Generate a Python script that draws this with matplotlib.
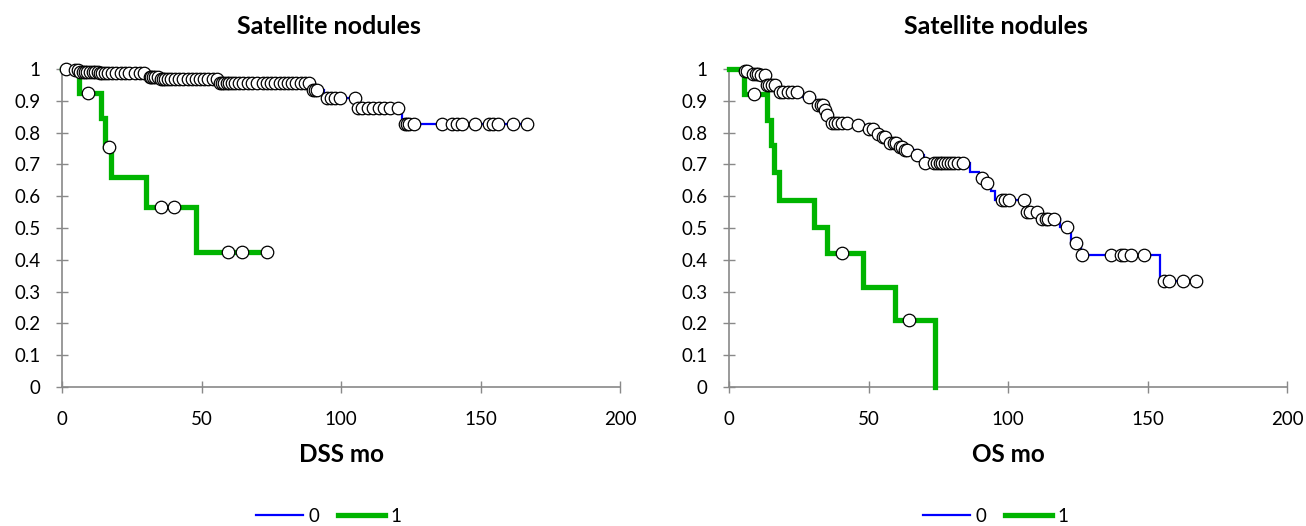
import numpy as np
import matplotlib.pyplot as plt

plt.rcParams['font.family'] = ['Lato', 'DejaVu Sans']

# DSS, group 0 (no satellite nodules): event times and survival after each drop
dss0_times = [3, 6, 13, 31, 35, 56, 89, 94, 105.5, 122]
dss0_surv = [0.997, 0.99, 0.986, 0.976, 0.97, 0.955, 0.934, 0.908, 0.876, 0.826]
dss0_cens = [1.4, 4.5, 5.8, 6.5, 7.5, 8.3, 9, 10, 11, 12, 12.8,
             13.5, 14.5, 15.5, 16.5, 18, 19.5, 21, 22.5, 24, 26, 28, 29.5,
             31.5, 32, 32.7, 33.5, 34.5,
             35.5, 36.2, 37, 38, 39, 40.5, 42, 43.5, 45, 46.5, 48, 49.5, 51, 52.5, 54, 55.5,
             56.5, 57.2, 58, 59, 60, 61, 62, 63.5, 65, 66.5, 68, 70, 72, 73.5, 75, 76.5,
             78, 79.5, 81, 82.5, 84, 85.5, 87, 88.5,
             90, 90.8, 91.5, 95, 96.5, 98, 99.8, 105,
             106, 107.5, 109.5, 111.5, 113.5, 115.5, 117.5, 120.5,
             123, 123.8, 124.5, 126, 136.2, 139.8, 141.5, 143.3, 148.1, 152.9, 154.5,
             156.4, 161.8, 166.5]

# DSS, group 1 (satellite nodules)
dss1_times = [6, 14, 15.4, 17.7, 30.2, 48.1]
dss1_surv = [0.925, 0.846, 0.756, 0.66, 0.567, 0.425]
dss1_cens = [9.4, 16.7, 35.4, 40, 59.6, 64.4, 73.3]

# OS, group 0
os0_times = [5, 8, 11, 13.2, 17.5, 26.5, 31, 34.3, 34.8, 36, 44, 49, 52.5, 54.5,
             57.5, 60.5, 62.5, 66.5, 70, 86.5, 89.5, 92, 94, 95.5, 106.5, 111.5,
             118.8, 122.6, 126, 154.5]
os0_surv = [0.993, 0.985, 0.98, 0.95, 0.929, 0.913, 0.887, 0.87, 0.855, 0.829,
            0.824, 0.81, 0.796, 0.786, 0.767, 0.755, 0.745, 0.73, 0.703, 0.677,
            0.656, 0.64, 0.615, 0.588, 0.551, 0.527, 0.502, 0.452, 0.415, 0.334]
os0_cens = [5.7, 6.5, 8.6, 9.5, 10.5, 11.5, 12.9, 13.5, 14.5, 15.5, 16.5,
            18.3, 19.5, 21, 22.5, 24.3, 28.5, 32, 33, 33.8, 34.5, 35,
            36.9, 38, 39, 40.5, 42.3, 46.4, 50, 51.5, 53.5, 55.3, 56,
            57.8, 59, 60, 61.4, 62, 63, 63.8, 67.3,
            70.4, 73.3, 74.5, 75.5, 76.5, 77.5, 78.5, 79.5, 80.5, 82, 84,
            90.7, 92.3, 97.8, 99, 100.2, 105.7, 106.9, 108, 110.5,
            112.2, 113.5, 114.5, 116.4, 121.2, 124.4,
            126.6, 136.8, 140.4, 141.5, 144, 148.8, 155.8, 157.6, 162.8, 167.3]

# OS, group 1
os1_times = [5.4, 13.5, 15.1, 16.2, 18.1, 30.3, 35.3, 48.2, 59.6, 73.7]
os1_surv = [0.92, 0.84, 0.761, 0.677, 0.588, 0.504, 0.42, 0.315, 0.211, 0.0]
os1_cens = [9.1, 40.5, 64.6]

groups = ['0', '1']
colors = ['#0000FF', '#00B400']
widths = [1.6, 3.8]
xlabels = ['DSS mo', 'OS mo']
title = 'Satellite nodules'


def km_steps(times, surv, cens):
    t_end = max(max(times), max(cens))
    x = np.concatenate([[0], times, [t_end]])
    y = np.concatenate([[1], surv, [surv[-1]]])
    idx = np.searchsorted(times, cens, side='right')
    cy = np.concatenate([[1], surv])[idx]
    return x, y, np.array(cens), cy


panels = [
    [(dss0_times, dss0_surv, dss0_cens), (dss1_times, dss1_surv, dss1_cens)],
    [(os0_times, os0_surv, os0_cens), (os1_times, os1_surv, os1_cens)],
]

W, H = 1306, 526
fig = plt.figure(figsize=(W / 100, H / 100), dpi=100)
ax_left = [62, 729]
ax_w = 558

for p, curves in enumerate(panels):
    ax = fig.add_axes([ax_left[p] / W, (H - 387) / H, ax_w / W, 318 / H])
    handles = []
    marks = []
    for g, (t, s, c) in enumerate(curves):
        x, y, cx, cy = km_steps(t, s, c)
        h, = ax.plot(x, y, drawstyle='steps-post', color=colors[g],
                     lw=widths[g], label=groups[g], zorder=2 + g,
                     solid_joinstyle='miter', clip_on=False)
        handles.append(h)
        marks.append((cx, cy))
    for cx, cy in marks:
        ax.plot(cx, cy, 'o', ms=9, mfc='white', mec='black', mew=0.9,
                zorder=5, clip_on=False)

    ax.set_xlim(0, 200)
    ax.set_ylim(0, 1)
    ax.set_xticks([0, 50, 100, 150, 200])
    ax.set_yticks(np.round(np.arange(0, 1.01, 0.1), 1))
    ax.set_yticklabels(['0'] + ['%.1f' % v for v in np.arange(0.1, 0.95, 0.1)] + ['1'])
    for side in ['top', 'right']:
        ax.spines[side].set_visible(False)
    for side in ['left', 'bottom']:
        ax.spines[side].set_color('#898989')
        ax.spines[side].set_linewidth(1.2)
    ax.tick_params(direction='inout', length=9, width=1, color='#898989',
                   labelsize=13.5, labelcolor='black')
    ax.tick_params(axis='y', pad=11)
    ax.tick_params(axis='x', pad=13)

    cx_fig = ax_left[p] + ax_w / 2
    fig.text((cx_fig - 12) / W, 1 - 26 / H, title, ha='center', va='center',
             fontsize=18, fontweight='bold')
    fig.text(cx_fig / W, 1 - 455 / H, xlabels[p], ha='center', va='center',
             fontsize=17.5, fontweight='bold')
    fig.legend(handles=handles, labels=groups, loc='center',
               bbox_to_anchor=((cx_fig - 12) / W, 1 - 516 / H), ncol=2,
               frameon=False, fontsize=13.5, handlelength=2.5,
               handletextpad=0.3, columnspacing=1.0, borderpad=0.1)

fig.savefig('out.png', dpi=100)
